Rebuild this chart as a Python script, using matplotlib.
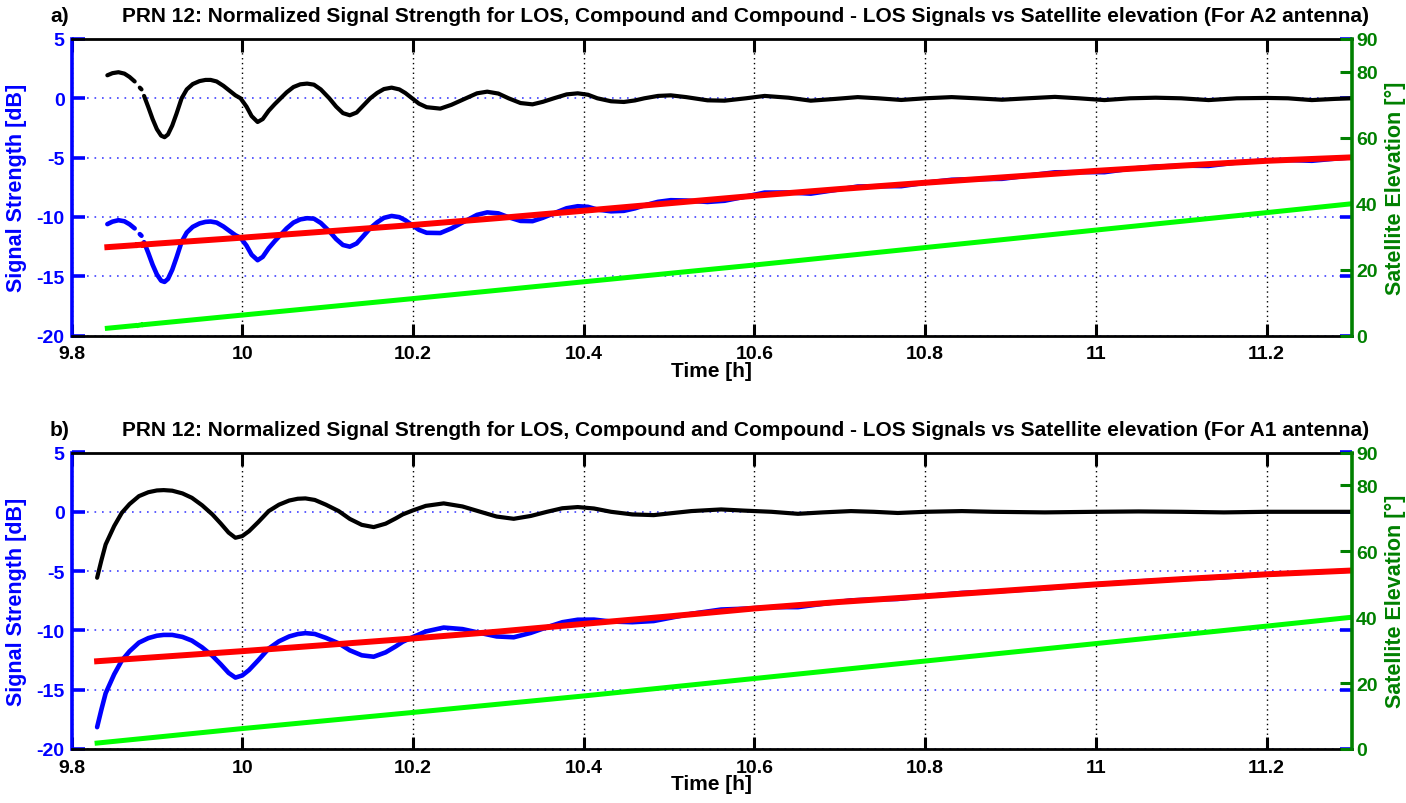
import numpy as np
import matplotlib
matplotlib.use("Agg")
import matplotlib.pyplot as plt

plt.rcParams['font.family'] = ['Liberation Sans', 'DejaVu Sans']
plt.rcParams['font.weight'] = 'bold'
plt.rcParams['axes.unicode_minus'] = False

nan = np.nan

# ---- panel a) A2 antenna ----
a_diff_t = [9.842, 9.848, 9.855, 9.862, 9.868, 9.874, nan, 9.880, 9.882, nan,
            9.885, 9.890, 9.895, 9.900, 9.905, 9.909, 9.913, 9.918, 9.923, 9.929,
            9.935, 9.942, 9.950, 9.957, 9.963, 9.970, 9.978, 9.985, 9.992, 9.998,
            10.005, 10.011, 10.018, 10.024, 10.031, 10.038, 10.045, 10.052, 10.060, 10.068,
            10.076, 10.084, 10.092, 10.102, 10.110, 10.118, 10.126, 10.134, 10.142, 10.150,
            10.158, 10.166, 10.175, 10.184, 10.191, 10.199, 10.207, 10.216, 10.232, 10.245,
            10.262, 10.275, 10.287, 10.300, 10.312, 10.326, 10.340, 10.352, 10.365, 10.380,
            10.393, 10.405, 10.416, 10.432, 10.447, 10.460, 10.471, 10.487, 10.502, 10.520,
            10.545, 10.565, 10.590, 10.612, 10.640, 10.666, 10.695, 10.721, 10.745, 10.772,
            10.800, 10.831, 10.860, 10.890, 10.920, 10.952, 10.980, 11.010, 11.040, 11.070,
            11.100, 11.132, 11.165, 11.200, 11.225, 11.253, 11.280, 11.300]
a_diff = [1.94, 2.12, 2.20, 2.08, 1.80, 1.42, nan, 0.90, 0.75, nan,
          0.20, -0.75, -1.75, -2.60, -3.15, -3.28, -3.05, -2.30, -1.30, 0.00,
          0.75, 1.20, 1.45, 1.55, 1.55, 1.42, 1.05, 0.65, 0.25, 0.00,
          -0.70, -1.50, -2.00, -1.75, -1.05, -0.50, 0.00, 0.50, 0.95, 1.18,
          1.24, 1.15, 0.75, 0.00, -0.70, -1.25, -1.43, -1.20, -0.60, 0.00,
          0.45, 0.78, 0.90, 0.75, 0.45, 0.00, -0.45, -0.75, -0.87, -0.55,
          0.00, 0.42, 0.56, 0.40, 0.00, -0.40, -0.51, -0.30, 0.00, 0.33,
          0.42, 0.30, 0.00, -0.25, -0.31, -0.18, 0.00, 0.20, 0.25, 0.10,
          -0.17, -0.20, 0.00, 0.20, 0.05, -0.20, -0.05, 0.10, 0.00, -0.14,
          0.00, 0.10, 0.00, -0.12, 0.00, 0.12, 0.00, -0.15, 0.00, 0.05,
          0.00, -0.15, 0.00, 0.03, 0.00, -0.15, -0.05, 0.00]
a_comp = [-10.61, -10.40, -10.28, -10.37, -10.62, -10.97, nan, -11.45, -11.59, nan,
          -12.13, -13.05, -14.03, -14.85, -15.38, -15.48, -15.23, -14.46, -13.43, -12.10,
          -11.32, -10.84, -10.55, -10.42, -10.39, -10.48, -10.81, -11.18, -11.54, -11.76,
          -12.42, -13.19, -13.65, -13.37, -12.64, -12.05, -11.51, -10.97, -10.48, -10.21,
          -10.11, -10.15, -10.51, -11.21, -11.87, -12.37, -12.51, -12.24, -11.60, -10.95,
          -10.46, -10.08, -9.92, -10.02, -10.28, -10.69, -11.09, -11.34, -11.36, -10.97,
          -10.32, -9.83, -9.62, -9.70, -10.03, -10.34, -10.36, -10.08, -9.70, -9.27,
          -9.10, -9.15, -9.38, -9.53, -9.49, -9.28, -9.03, -8.73, -8.59, -8.62,
          -8.74, -8.64, -8.28, -7.95, -7.94, -8.04, -7.73, -7.44, -7.41, -7.41,
          -7.12, -6.87, -6.82, -6.79, -6.52, -6.24, -6.22, -6.23, -5.94, -5.76,
          -5.68, -5.70, -5.41, -5.24, -5.20, -5.27, -5.09, -4.98]
a_los_t = [9.842, 9.874, nan, 9.879, 9.881, nan, 9.885, 9.9, 10.0, 10.1, 10.2, 10.3,
           10.4, 10.5, 10.6, 10.7, 10.8, 10.9, 11.0, 11.1, 11.2, 11.3]
a_los = [-12.55, -12.39, nan, -12.36, -12.35, nan, -12.33, -12.25, -11.75, -11.22, -10.68, -10.10,
         -9.48, -8.85, -8.22, -7.65, -7.12, -6.62, -6.12, -5.68, -5.27, -4.98]
a_elev_t = [9.842, 9.874, nan, 9.879, 9.881, nan, 9.885, 10.0, 10.2, 10.4, 10.6,
            10.8, 11.0, 11.2, 11.3]
a_elev = [2.2, 3.0, nan, 3.1, 3.2, nan, 3.3, 6.2, 11.2, 16.3, 21.4,
          26.7, 32.0, 37.3, 40.0]

# ---- panel b) A1 antenna ----
b_diff_t = [9.830, 9.835, 9.840, 9.850, 9.859, 9.868, 9.879, 9.890, 9.900, 9.908,
            9.918, 9.930, 9.941, 9.953, 9.965, 9.975, 9.984, 9.992, 10.000, 10.008,
            10.019, 10.031, 10.043, 10.055, 10.065, 10.074, 10.085, 10.098, 10.113, 10.126,
            10.140, 10.154, 10.168, 10.180, 10.188, 10.200, 10.215, 10.236, 10.258, 10.279,
            10.298, 10.318, 10.338, 10.357, 10.375, 10.393, 10.412, 10.432, 10.457, 10.482,
            10.505, 10.526, 10.561, 10.588, 10.620, 10.651, 10.680, 10.713, 10.740, 10.768,
            10.800, 10.843, 10.880, 10.940, 11.000, 11.050, 11.100, 11.150, 11.200, 11.300]
b_diff = [-5.56, -4.10, -2.75, -1.20, -0.08, 0.65, 1.32, 1.65, 1.80, 1.83,
          1.78, 1.55, 1.18, 0.55, -0.22, -1.00, -1.75, -2.19, -2.05, -1.63,
          -0.85, 0.06, 0.60, 0.95, 1.10, 1.13, 1.00, 0.60, 0.06, -0.60,
          -1.10, -1.29, -1.00, -0.55, -0.22, 0.12, 0.50, 0.71, 0.45, 0.00,
          -0.40, -0.59, -0.35, 0.00, 0.30, 0.40, 0.28, 0.00, -0.22, -0.28,
          -0.10, 0.06, 0.20, 0.10, 0.00, -0.17, -0.05, 0.06, 0.00, -0.10,
          0.00, 0.06, 0.00, -0.05, 0.00, 0.03, 0.00, -0.05, 0.00, 0.00]
b_comp = [-18.16, -16.68, -15.30, -13.70, -12.53, -11.76, -11.03, -10.65, -10.45, -10.38,
          -10.38, -10.55, -10.86, -11.43, -12.14, -12.87, -13.58, -13.98, -13.80, -13.34,
          -12.50, -11.53, -10.92, -10.51, -10.31, -10.23, -10.30, -10.63, -11.09, -11.68,
          -12.10, -12.22, -11.85, -11.34, -10.96, -10.56, -10.09, -9.76, -9.89, -10.22,
          -10.51, -10.58, -10.21, -9.73, -9.31, -9.10, -9.09, -9.25, -9.31, -9.21,
          -8.89, -8.60, -8.24, -8.17, -8.04, -8.04, -7.76, -7.47, -7.39, -7.35,
          -7.12, -6.84, -6.72, -6.47, -6.12, -5.87, -5.68, -5.53, -5.27, -4.95]
b_los_t = [9.830, 9.9, 10.0, 10.1, 10.2, 10.3, 10.4, 10.5, 10.6, 10.7, 10.8,
           10.9, 11.0, 11.1, 11.2, 11.3]
b_los = [-12.60, -12.25, -11.75, -11.22, -10.68, -10.10, -9.45, -8.82, -8.15, -7.60, -7.12,
         -6.62, -6.12, -5.68, -5.27, -4.95]
b_elev_t = [9.830, 10.0, 10.2, 10.4, 10.6, 10.8, 11.0, 11.2, 11.3]
b_elev = [1.8, 6.2, 11.1, 16.1, 21.4, 26.7, 32.0, 37.3, 40.0]

x_ticks = [9.8, 10, 10.2, 10.4, 10.6, 10.8, 11, 11.2]
db_ticks = [-20, -15, -10, -5, 0, 5]
el_ticks = [0, 20, 40, 60, 80, 90]

title_txt = ("PRN 12: Normalized Signal Strength for LOS, Compound and Compound - LOS "
             "Signals vs Satellite elevation (For {} antenna)")

W, H = 1406, 804
fig = plt.figure(figsize=(W / 100, H / 100), dpi=100)

dkgreen = (0, 0.5, 0)
fs = 15      # titles
lfs = 15.5   # axis labels
tfs = 14     # tick labels


def panel(bottom_px, letter, ant, diff_t, diff, comp, los_t, los, el_t, el):
    left, right, top = 71.5, 1352, bottom_px - 296.5
    ax = fig.add_axes([left / W, 1 - bottom_px / H, (right - left) / W, 296.5 / H])
    kw = dict(solid_joinstyle='round', solid_capstyle='round')
    ax.plot(diff_t, comp, color='blue', lw=3.3, zorder=2, **kw)
    ax.plot(los_t, los, color='red', lw=4.3, zorder=3)
    ax.plot(diff_t, diff, color='black', lw=3.0, zorder=4, **kw)
    ax.set_xlim(9.8, 11.3)
    ax.set_ylim(-20, 5)
    ax.set_xticks(x_ticks)
    ax.set_xticklabels(['%g' % v for v in x_ticks])
    ax.set_yticks(db_ticks)
    ax.set_yticklabels(['%g' % v for v in db_ticks])
    ax.set_axisbelow(True)
    ax.grid(axis='y', color=(0.25, 0.25, 1), ls=(0, (1, 3.5)), lw=1.2)
    ax.grid(axis='x', color='black', ls=(0, (1, 2.5)), lw=1.0)

    ax2 = ax.twinx()
    ax2.plot(el_t, el, color=(0, 1, 0), lw=3.6)
    ax2.set_ylim(0, 90)
    ax2.set_yticks(el_ticks)
    ax2.set_yticklabels(['%g' % v for v in el_ticks])

    ax.tick_params(axis='x', direction='in', top=True, length=9, width=2.2,
                   labelsize=tfs, pad=7, colors='black')
    ax.tick_params(axis='y', direction='in', left=True, right=True, length=9, width=2.6,
                   labelsize=tfs, pad=5, colors='blue')
    ax2.tick_params(axis='y', direction='in', length=9, width=2.2,
                    labelsize=tfs, pad=3, colors=dkgreen)

    for s in ('top', 'bottom'):
        ax.spines[s].set_linewidth(2)
        ax.spines[s].set_color('black')
    ax.spines['left'].set_color('blue')
    ax.spines['left'].set_linewidth(2.6)
    ax.spines['right'].set_visible(False)
    for s in ('top', 'bottom', 'left'):
        ax2.spines[s].set_visible(False)
    ax2.spines['right'].set_color(dkgreen)
    ax2.spines['right'].set_linewidth(2.6)

    ax.set_xlabel('Time [h]', fontsize=fs, fontweight='bold')
    ax.xaxis.set_label_coords(0.5, (336.5 - 362) / 296.5)
    ax.set_ylabel('Signal Strength [dB]', fontsize=lfs, fontweight='bold', color='blue')
    ax.yaxis.set_label_coords((27 - left) / (right - left), 0.5)
    ax2.set_ylabel('Satellite Elevation [\u00b0]', fontsize=lfs, fontweight='bold', color=dkgreen)
    ax2.yaxis.set_label_coords((1385 - left) / (right - left), 0.5)

    ty = 1 - (top - 23) / H
    fig.text(50 / W, ty, letter, fontsize=fs, fontweight='bold', va='center', ha='left')
    fig.text(122 / W, ty, title_txt.format(ant), fontsize=fs, fontweight='bold',
             va='center', ha='left')


panel(336.5, 'a)', 'A2', a_diff_t, a_diff, a_comp, a_los_t, a_los, a_elev_t, a_elev)
panel(750, 'b)', 'A1', b_diff_t, b_diff, b_comp, b_los_t, b_los, b_elev_t, b_elev)

fig.savefig('out.png', dpi=100)
